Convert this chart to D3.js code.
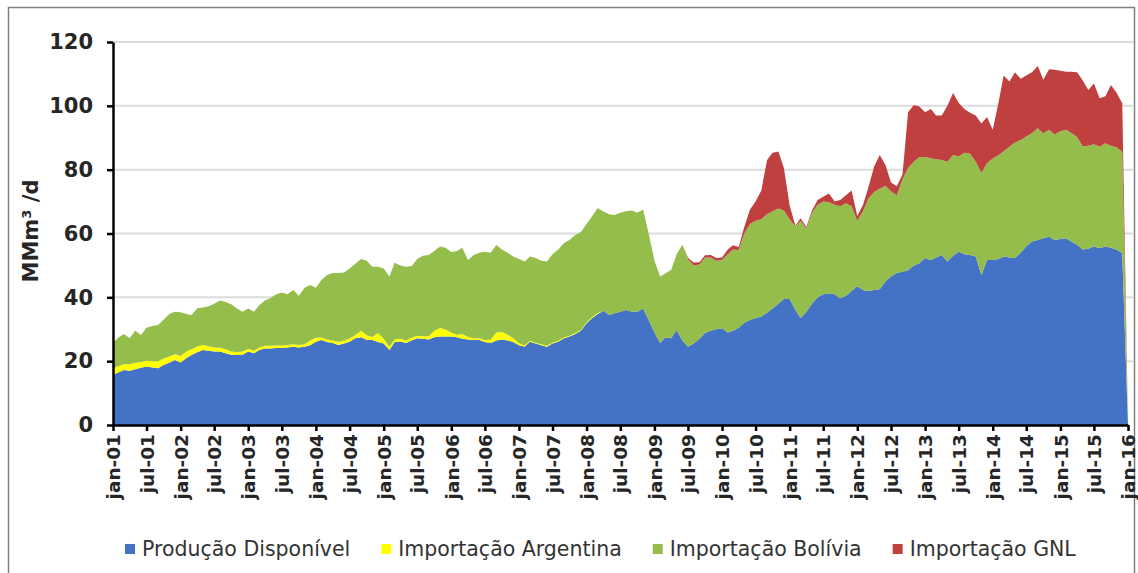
<!DOCTYPE html>
<html><head><meta charset="utf-8">
<script src="https://cdn.jsdelivr.net/npm/d3@7"></script>
<style>body{margin:0;background:#fff} svg{display:block}</style>
</head><body>
<svg id="chart" width="1138" height="573"></svg>
<script>
// ---------- data ----------
const seriesKeys   = ["producao", "argentina", "bolivia", "gnl"];
const seriesNames  = ["Produção Disponível", "Importação Argentina", "Importação Bolívia", "Importação GNL"];
const seriesColors = ["#4472C4", "#FFFF00", "#95BD4C", "#C0403F"];
const yTickValues  = [0, 20, 40, 60, 80, 100, 120];
const monthAbbrev  = {0: "jan", 6: "jul"};
const yAxisTitle   = "MMm³ /d";
// monthly values, jan-01 .. jan-16 (MMm³/d)
const producao = [
 15.7,16.5,17.2,17.0,17.5,17.9,18.3,18.0,17.8,18.8,19.5,20.4,
 19.6,21.0,21.9,22.8,23.5,23.3,23.0,23.0,22.5,22.0,21.9,22.0,
 23.0,22.5,23.5,24.0,24.0,24.1,24.1,24.3,24.5,24.3,24.5,25.0,
 26.1,26.6,26.0,25.7,25.1,25.5,26.1,27.2,27.5,26.6,26.6,26.0,
 25.5,23.5,26.0,26.2,25.7,26.5,27.2,27.0,26.8,27.5,27.7,27.7,
 27.7,27.5,27.0,26.8,26.6,26.6,26.0,25.7,26.5,26.8,26.5,26.0,
 25.0,24.5,26.1,25.5,25.0,24.5,25.5,26.1,27.2,27.7,28.5,29.5,
 31.9,33.5,34.8,35.8,34.5,35.0,35.5,36.0,35.5,35.5,36.5,32.9,
 29.0,25.7,27.5,27.2,29.8,26.5,24.5,25.5,27.0,28.8,29.5,30.0,
 30.3,29.0,29.5,30.5,32.0,32.9,33.5,34.0,35.2,36.5,38.0,39.5,
 39.5,36.0,33.5,35.5,38.0,40.0,41.0,41.3,41.0,39.7,40.5,42.0,
 43.5,42.3,42.0,42.3,42.5,45.0,46.5,47.6,48.0,48.5,50.0,50.7,
 52.3,51.7,52.5,53.3,51.2,53.0,54.3,53.5,53.3,52.8,47.0,51.7,
 51.7,52.0,52.8,52.5,52.3,54.0,56.0,57.5,58.0,58.5,59.0,58.0,
 58.3,58.5,57.5,56.5,55.0,55.2,55.9,55.4,55.9,55.5,54.9,53.8,
 0];
const argentina = [
 2.0,2.0,1.8,2.0,2.0,1.8,1.8,2.0,2.2,2.0,2.0,1.8,
 2.0,2.0,1.8,1.8,1.6,1.4,1.3,1.2,1.2,1.0,1.0,1.0,
 0.8,0.8,0.8,0.8,0.8,0.8,0.8,0.8,0.8,0.8,0.8,1.5,
 1.2,0.8,0.8,0.8,1.0,1.0,1.0,1.0,2.0,1.5,1.0,2.8,
 1.5,1.0,0.8,0.8,0.8,0.8,0.8,0.8,1.0,2.0,2.7,2.2,
 1.2,0.8,1.5,0.8,0.6,0.6,0.6,1.0,2.5,2.3,1.8,1.2,
 0.6,0.4,0.3,0.3,0.3,0.3,0.3,0.3,0.3,0.3,0.3,0.3,
 0.3,0.3,0.3,0,0,0,0,0,0,0,0,0,
 0,0,0,0,0,0,0,0,0,0,0,0,
 0,0,0,0,0,0,0,0,0,0,0,0,
 0,0,0,0,0,0,0,0,0,0,0,0,
 0,0,0,0,0,0,0,0,0,0,0,0,
 0,0,0,0,0,0,0,0,0,0,0,0,
 0,0,0,0,0,0,0,0,0,0,0,0,
 0,0,0,0,0,0,0,0,0,0,0,0,
 0];
const bolivia = [
 8.0,9.0,9.5,8.2,10.0,8.5,10.4,11.0,11.3,12.2,13.3,13.3,
 13.7,11.8,10.8,12.0,11.7,12.5,13.7,14.8,14.8,14.8,13.6,12.5,
 12.7,12.2,13.2,14.2,15.0,16.1,16.6,15.9,17.0,15.4,17.7,17.4,
 15.7,18.1,20.2,21.1,21.5,21.3,21.9,22.3,22.5,23.4,22.0,20.8,
 22.0,22.0,24.0,23.0,23.1,22.5,24.0,25.2,25.5,25.0,25.5,25.6,
 25.3,26.2,27.0,24.1,26.1,26.8,27.7,27.3,27.4,25.9,25.7,25.6,
 26.4,26.3,26.4,26.5,26.2,26.4,27.7,28.6,29.5,30.0,30.7,30.7,
 30.8,31.7,32.9,31.1,31.5,30.8,31.0,31.0,31.7,31.0,31.0,27.1,
 22.5,20.8,20.0,21.4,23.7,30.0,27.5,24.5,23.3,23.7,23.0,21.5,
 21.4,24.5,25.5,24.3,28.0,30.1,30.5,30.5,30.8,30.5,29.8,27.7,
 25.0,26.2,30.5,26.0,28.5,29.0,29.0,28.5,28.0,28.8,29.0,26.5,
 20.5,24.7,29.0,30.7,31.5,30.0,26.7,24.4,29.0,32.0,32.5,33.3,
 31.7,31.9,30.8,29.7,31.3,31.6,29.8,31.8,31.7,29.7,32.0,30.3,
 31.8,32.5,33.0,34.7,36.2,35.3,34.4,34.0,35.0,32.9,33.5,33.0,
 33.7,34.0,34.0,33.7,32.3,32.3,32.1,31.8,32.4,32.0,32.1,31.7,
 0];
const gnl = [
 0,0,0,0,0,0,0,0,0,0,0,0,
 0,0,0,0,0,0,0,0,0,0,0,0,
 0,0,0,0,0,0,0,0,0,0,0,0,
 0,0,0,0,0,0,0,0,0,0,0,0,
 0,0,0,0,0,0,0,0,0,0,0,0,
 0,0,0,0,0,0,0,0,0,0,0,0,
 0,0,0,0,0,0,0,0,0,0,0,0,
 0,0,0,0,0,0,0,0,0,0,0,0,
 0,0,0,0,0,0,0.4,0.9,0.7,0.7,0.8,0.8,
 0.8,1.5,1.3,1.0,2.0,4.5,6.0,9.0,17.0,18.3,17.9,13.3,
 4.3,0.2,0.8,0.5,0.7,1.5,1.5,2.7,1.0,2.0,2.5,5.0,
 1.5,2.0,3.5,8.0,10.6,6.5,2.8,2.8,1.5,17.5,17.8,15.8,
 14.0,15.4,13.7,14.0,17.5,19.4,16.9,13.7,12.8,14.5,15.5,14.5,
 9.0,16.5,23.7,20.4,22.0,19.2,19.1,19.0,19.5,16.8,19.0,20.3,
 19.0,18.2,19.2,20.3,20.7,17.5,19.0,15.2,14.7,19.0,17.0,15.3,
 0];
const seriesValues = {producao, argentina, bolivia, gnl};

// ---------- layout ----------
const svg = d3.select("#chart");
const FONT = "'DejaVu Sans', sans-serif";
const plotLeft = 113, plotRight = 1128, plotTop = 42, plotBottom = 425;
const startDate = new Date(2001, 0, 1), endDate = new Date(2016, 0, 1);
const months = d3.timeMonth.range(startDate, d3.timeMonth.offset(endDate, 1));
const data = months.map((d, i) => {
  const o = {date: d};
  seriesKeys.forEach(k => o[k] = seriesValues[k][i]);
  return o;
});

const x = d3.scaleTime().domain([startDate, endDate]).range([plotLeft, plotRight]);
const y = d3.scaleLinear().domain([0, 120]).range([plotBottom, plotTop]);

// frame
svg.append("rect").attr("x", 8.5).attr("y", 7.5).attr("width", 1126).attr("height", 600)
  .attr("fill", "#fff").attr("stroke", "#7f7f7f").attr("stroke-width", 1.5);

// gridlines
svg.append("g").selectAll("line").data(yTickValues.filter(v => v > 0)).join("line")
  .attr("x1", plotLeft).attr("x2", 1133)
  .attr("y1", d => y(d)).attr("y2", d => y(d))
  .attr("stroke", "#dcdcdc").attr("stroke-width", 2);

// stacked areas
const stacked = d3.stack().keys(seriesKeys)(data);
const area = d3.area().x(d => x(d.data.date)).y0(d => y(d[0])).y1(d => y(d[1]));
svg.append("g").selectAll("path").data(stacked).join("path")
  .attr("d", area).attr("fill", (d, i) => seriesColors[i]);

// y axis
const yAxis = svg.append("g").attr("transform", `translate(${plotLeft},0)`)
  .call(d3.axisLeft(y).tickValues(yTickValues).tickSize(6).tickSizeOuter(0).tickPadding(14));
yAxis.select(".domain").attr("stroke", "#000").attr("stroke-width", 2.5);
yAxis.selectAll(".tick line").attr("stroke", "#000").attr("stroke-width", 2.5);
yAxis.selectAll(".tick text").attr("font-family", FONT).attr("font-size", 21)
  .attr("font-weight", "bold").attr("fill", "#262626");

// x axis
const xTicks = d3.timeMonth.every(6).range(startDate, d3.timeMonth.offset(endDate, 1));
const xAxis = svg.append("g").attr("transform", `translate(0,${plotBottom})`)
  .call(d3.axisBottom(x).tickValues(xTicks)
    .tickFormat(d => monthAbbrev[d.getMonth()] + "-" + d3.timeFormat("%y")(d))
    .tickSize(6).tickSizeOuter(0));
xAxis.select(".domain").attr("stroke", "#000").attr("stroke-width", 2.5);
xAxis.selectAll(".tick line").attr("stroke", "#000").attr("stroke-width", 2.5);
xAxis.selectAll(".tick text")
  .attr("font-family", FONT).attr("font-size", 18.5).attr("font-weight", "bold").attr("fill", "#262626")
  .attr("transform", "rotate(-90)").attr("text-anchor", "end")
  .attr("x", -9).attr("y", 0).attr("dy", "0.36em");

// y axis title
svg.append("text").attr("transform", "translate(38,231) rotate(-90)")
  .attr("text-anchor", "middle").attr("font-family", FONT).attr("font-size", 21)
  .attr("font-weight", "bold").attr("fill", "#262626").text(yAxisTitle);

// legend
const legend = svg.append("g");
let lx = 125;
const ly = 549;
seriesNames.forEach((name, i) => {
  legend.append("rect").attr("x", lx).attr("y", ly - 5).attr("width", 10).attr("height", 10)
    .attr("fill", seriesColors[i]);
  const t = legend.append("text").attr("x", lx + 17).attr("y", ly).attr("dy", "0.36em")
    .attr("font-family", FONT).attr("font-size", 20.5).attr("fill", "#333").text(name);
  lx += 17 + t.node().getComputedTextLength() + 31;
});
</script>
</body></html>
